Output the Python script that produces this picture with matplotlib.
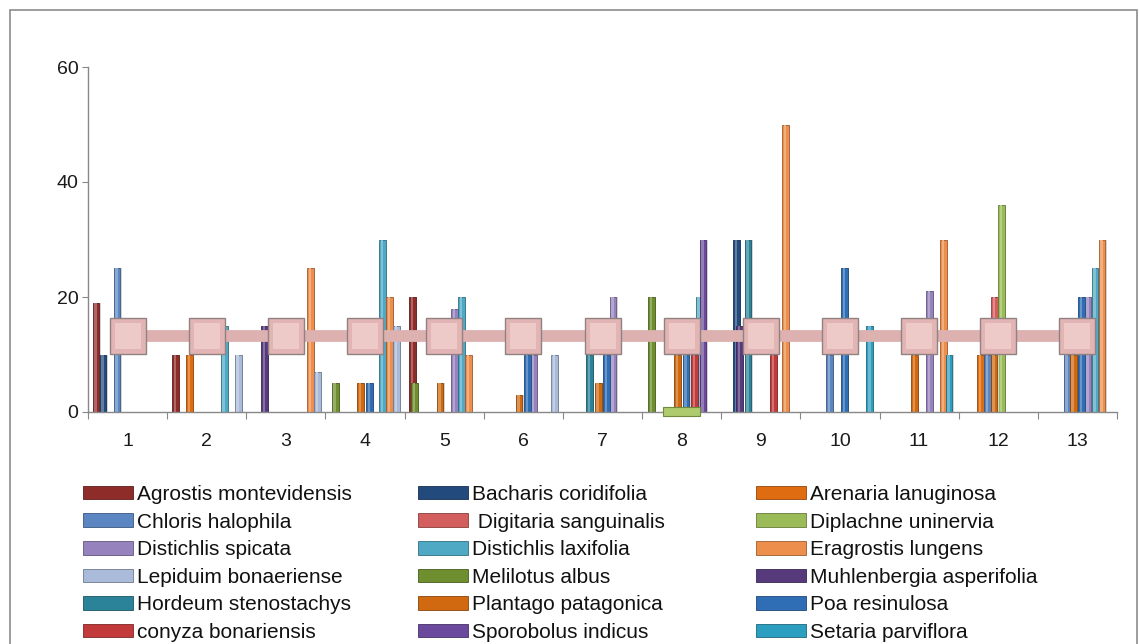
import numpy as np
import matplotlib.pyplot as plt
from matplotlib.patches import Patch, Rectangle
from matplotlib.colors import to_rgb

plt.rcParams['font.family'] = ['Liberation Sans', 'DejaVu Sans']

categories = list(range(1, 14))

# cover (%) per plot, one value per category 1..13
agrostis_montevidensis = [19, 10, 0, 0, 20, 0, 0, 0, 0, 0, 0, 0, 0]
bacharis_coridifolia = [10, 0, 0, 0, 0, 0, 0, 0, 30, 0, 0, 0, 0]
arenaria_lanuginosa = [0, 10, 0, 0, 0, 0, 0, 0, 0, 0, 0, 10, 0]
chloris_halophila = [25, 0, 0, 0, 0, 0, 0, 0, 0, 10, 0, 10, 10]
digitaria_sanguinalis = [0, 0, 0, 0, 0, 0, 0, 0, 0, 0, 0, 20, 0]
diplachne_uninervia = [0, 0, 0, 0, 0, 0, 0, 0, 0, 0, 0, 36, 0]
distichlis_spicata = [0, 0, 0, 0, 18, 10, 20, 0, 0, 0, 21, 0, 20]
distichlis_laxifolia = [0, 15, 0, 30, 20, 0, 0, 20, 0, 0, 0, 0, 25]
eragrostis_lungens = [0, 0, 25, 20, 10, 0, 0, 0, 50, 0, 30, 0, 30]
lepiduim_bonaeriense = [0, 10, 7, 15, 0, 10, 0, 0, 0, 0, 0, 0, 0]
melilotus_albus = [0, 0, 0, 5, 5, 0, 0, 20, 0, 0, 0, 0, 0]
muhlenbergia_asperifolia = [0, 0, 15, 0, 0, 0, 0, 0, 15, 0, 0, 0, 0]
hordeum_stenostachys = [0, 0, 0, 0, 0, 0, 10, 0, 30, 0, 0, 0, 0]
plantago_patagonica = [0, 0, 0, 5, 5, 3, 5, 10, 0, 0, 10, 10, 10]
poa_resinulosa = [0, 0, 0, 5, 0, 10, 10, 10, 0, 25, 0, 0, 20]
conyza_bonariensis = [0, 0, 0, 0, 0, 0, 0, 10, 10, 0, 0, 0, 0]
sporobolus_indicus = [0, 0, 0, 0, 0, 0, 0, 30, 0, 0, 0, 0, 0]
setaria_parviflora = [0, 0, 0, 0, 0, 0, 0, 0, 0, 15, 10, 0, 0]

# mean line with square markers
mean_line = [13.3, 13.3, 13.3, 13.3, 13.3, 13.3, 13.3, 13.3, 13.3, 13.3, 13.3, 13.3, 13.3]

# flat dash marker lying on the axis
dash_cats = [8]
dash_vals = [0.1]

labels = [
    "Agrostis montevidensis", "Bacharis coridifolia", "Arenaria lanuginosa",
    "Chloris halophila", " Digitaria sanguinalis", "Diplachne uninervia",
    "Distichlis spicata", "Distichlis laxifolia", "Eragrostis lungens",
    "Lepiduim bonaeriense", "Melilotus albus", "Muhlenbergia asperifolia",
    "Hordeum stenostachys", "Plantago patagonica", "Poa resinulosa",
    "conyza bonariensis", "Sporobolus indicus", "Setaria parviflora",
]
values = [
    agrostis_montevidensis, bacharis_coridifolia, arenaria_lanuginosa,
    chloris_halophila, digitaria_sanguinalis, diplachne_uninervia,
    distichlis_spicata, distichlis_laxifolia, eragrostis_lungens,
    lepiduim_bonaeriense, melilotus_albus, muhlenbergia_asperifolia,
    hordeum_stenostachys, plantago_patagonica, poa_resinulosa,
    conyza_bonariensis, sporobolus_indicus, setaria_parviflora,
]
colors = [
    "#8E2C2A", "#234A7C", "#E06C12", "#5B86C2", "#D25F5E", "#9BBB59",
    "#9683BE", "#4FA9C4", "#EE8E4C", "#A9BBD8", "#6F8F2F", "#563A7C",
    "#2A8399", "#D0690F", "#2F6DB5", "#C23B3A", "#6B4A9E", "#2C9FC0",
]


def shade(color, k):
    r = np.array(to_rgb(color))
    if k > 0:
        return tuple(r + (1 - r) * k)
    return tuple(r * (1 + k))


fig = plt.figure(figsize=(11.39, 6.44), dpi=100)
ax = fig.add_axes([88 / 1139, 232 / 644, 1029 / 1139, 345 / 644])

cats = np.array(categories, dtype=float)
px = 1 / 79.2
slot_primary = 7.0 * px
slot_secondary = 8.55 * px
bar_w = 6.8 * px

# first ten series sit on the primary cluster, the rest on the secondary one
for i, (vals, col) in enumerate(zip(values, colors)):
    if i < 10:
        xs = cats + (i - 4.5) * slot_primary
    else:
        xs = cats + (i - 10 - 3.5) * slot_secondary
    v = np.array(vals, dtype=float)
    keep = v > 0
    z = 2 + i * 0.01
    # soft drop shadow, body, then a light stripe for the rounded look
    ax.bar(xs[keep] + 1.2 * px, v[keep], width=bar_w, color="#D4D4D4",
           linewidth=0, zorder=z - 0.004)
    ax.bar(xs[keep], v[keep], width=bar_w, color=col,
           edgecolor=shade(col, -0.35), linewidth=0.6, zorder=z)
    ax.bar(xs[keep] - bar_w * 0.08, v[keep], width=bar_w * 0.35,
           color=shade(col, 0.28), linewidth=0, zorder=z + 0.005)

ax.bar(dash_cats, 1.6, bottom=np.array(dash_vals) - 0.8, width=0.46,
       color="#AECB6E", edgecolor="#6E8A3A", linewidth=0.8, zorder=3,
       clip_on=False)

ax.plot(cats, mean_line, color="#DDB1B0", linewidth=8.5,
        solid_capstyle="butt", zorder=4)
ax.plot(cats, mean_line, linestyle="none", marker="s", markersize=26.5,
        markerfacecolor="#E2B4B3", markeredgecolor="#908282",
        markeredgewidth=1.0, zorder=5)
ax.plot(cats, mean_line, linestyle="none", marker="s", markersize=19,
        markerfacecolor="#EDC9C8", markeredgewidth=0, zorder=6)

ax.set_xlim(0.5, 13.5)
ax.set_ylim(0, 60)
ax.set_yticks([0, 20, 40, 60])
ax.set_xticks(np.arange(0.5, 14, 1))
ax.set_xticklabels([])
ax.set_xticks(cats, minor=True)
ax.set_xticklabels([str(c) for c in categories], minor=True)
ax.tick_params(axis="x", which="major", direction="out", length=5,
               color="#888888")
ax.tick_params(axis="x", which="minor", length=0, pad=15, labelsize=14,
               labelcolor="#1a1a1a")
ax.tick_params(axis="y", direction="out", length=4, pad=3, labelsize=14,
               color="#888888", labelcolor="#1a1a1a")
for side in ("top", "right"):
    ax.spines[side].set_visible(False)
for side in ("left", "bottom"):
    ax.spines[side].set_color("#888888")
    ax.spines[side].set_linewidth(1.0)

# legend laid out row by row over three fixed columns
col_x = [83, 418, 756]
for j in range(3):
    idx = list(range(j, 18, 3))
    handles = [Patch(facecolor=colors[k], edgecolor=shade(colors[k], -0.35),
                     linewidth=0.6) for k in idx]
    leg = fig.legend(handles, [labels[k] for k in idx], loc="upper left",
                     bbox_to_anchor=(col_x[j] / 1139, (644 - 485) / 644),
                     frameon=False, fontsize=15, borderpad=0,
                     borderaxespad=0, handlelength=2.4, handleheight=0.62,
                     handletextpad=0.2, labelspacing=0.41)
    for t in leg.get_texts():
        t.set_color("#111111")

fig.add_artist(Rectangle((10 / 1139, -0.05), 1127 / 1139, (634 / 644) + 0.05,
                         transform=fig.transFigure, fill=False,
                         edgecolor="#8C8C8C", linewidth=1.2))

fig.savefig("out.png", dpi=100)
